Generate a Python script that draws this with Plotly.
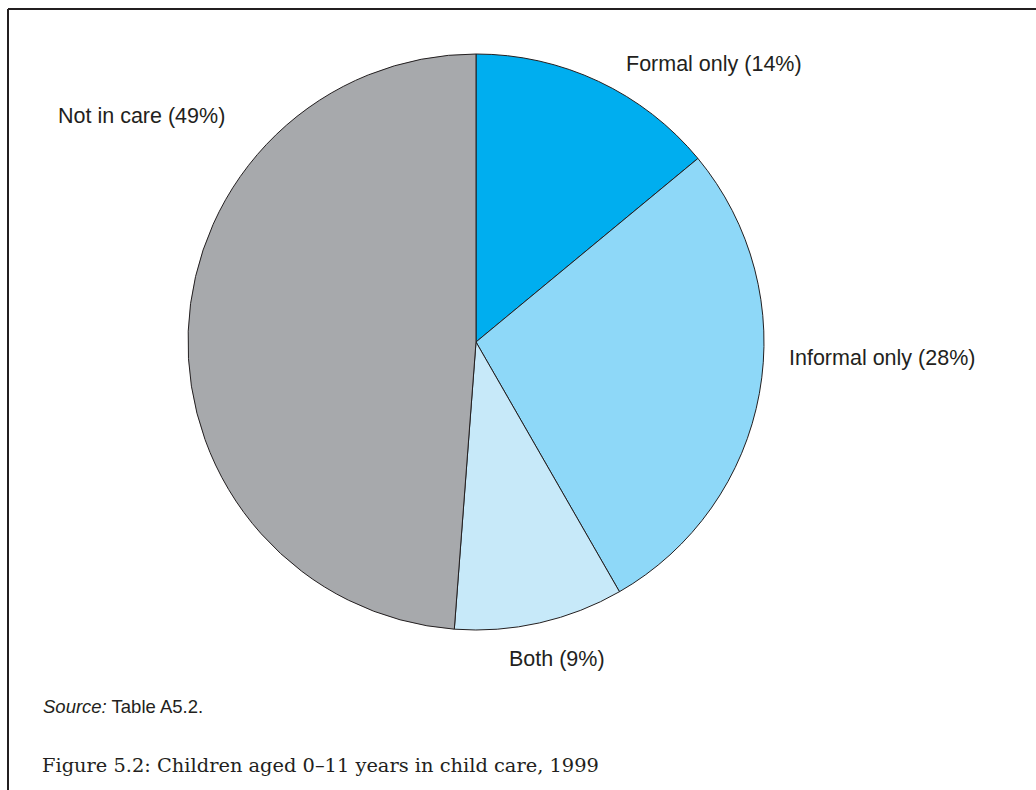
import plotly.graph_objects as go

categories = ["Formal only", "Informal only", "Both", "Not in care"]
values = [14.0, 27.7, 9.5, 48.8]          # slice sizes
label_pct = [14, 28, 9, 49]               # percentages printed in the labels
colors = ["#00AEEF", "#8ED8F8", "#C7E9F9", "#A7A9AC"]

W, H = 1036, 790
cx, cy, r = 476, 342, 288

fig = go.Figure(go.Pie(
    labels=categories, values=values, sort=False, direction="clockwise",
    rotation=0, textinfo="none", hoverinfo="label+percent",
    marker=dict(colors=colors, line=dict(color="#231F20", width=1)),
    domain=dict(x=[(cx - r) / W, (cx + r) / W], y=[(H - cy - r) / H, (H - cy + r) / H]),
    showlegend=False,
))

def px(x, y):
    return x / W, 1 - y / H

label_pos = {
    "Formal only": (714, 64),
    "Informal only": (882, 358),
    "Both": (557, 659),
    "Not in care": (141, 116),
}
annotations = []
for c, p in zip(categories, label_pct):
    x, y = label_pos[c]
    ax, ay = px(x, y)
    annotations.append(dict(x=ax, y=ay, xref="paper", yref="paper", text=f"{c} ({p}%)",
                            showarrow=False, xanchor="center", yanchor="middle",
                            font=dict(family="Liberation Sans, Arial, sans-serif", size=21.5, color="#231F20")))

sx, sy = px(41, 706)
annotations.append(dict(x=sx, y=sy, xref="paper", yref="paper",
                        text="<i>Source:</i> Table A5.2.", showarrow=False, xanchor="left", yanchor="middle",
                        font=dict(family="Liberation Sans, Arial, sans-serif", size=18.5, color="#231F20")))
fx, fy = px(40, 765)
annotations.append(dict(x=fx, y=fy, xref="paper", yref="paper",
                        text="Figure 5.2: Children aged 0–11 years in child care, 1999", showarrow=False,
                        xanchor="left", yanchor="middle",
                        font=dict(family="DejaVu Serif, serif", size=19.4, color="#231F20")))

x0, y0 = px(8, 9)
shapes = [
    dict(type="line", xref="paper", yref="paper", x0=x0, y0=y0, x1=1.0, y1=y0, line=dict(color="#231F20", width=2)),
    dict(type="line", xref="paper", yref="paper", x0=x0, y0=y0, x1=x0, y1=0.0, line=dict(color="#231F20", width=2)),
]

fig.update_layout(width=W, height=H, margin=dict(l=0, r=0, t=0, b=0),
                  paper_bgcolor="white", plot_bgcolor="white",
                  annotations=annotations, shapes=shapes)
fig.write_html("out.html")
